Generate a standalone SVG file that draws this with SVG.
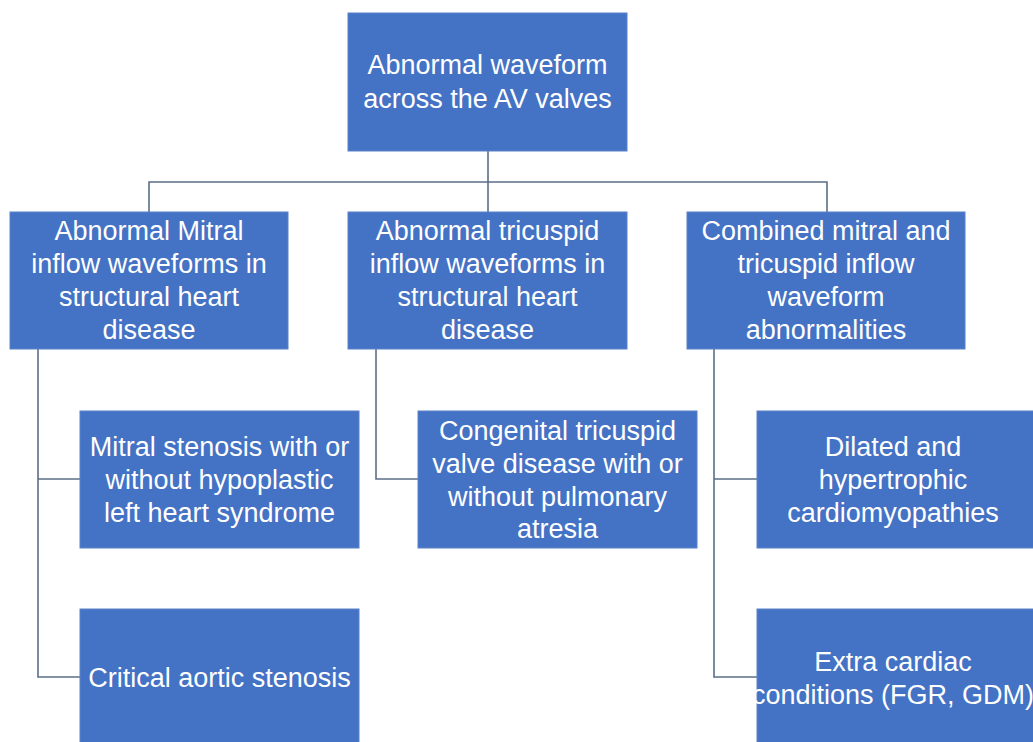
<svg xmlns="http://www.w3.org/2000/svg" width="1033" height="742" viewBox="0 0 1033 742">
<style>
.box{fill:#4472C4;stroke:#5a82c9;stroke-width:1}
.t{font-family:"Liberation Sans",Arial,sans-serif;font-size:27px;fill:#ffffff;text-anchor:middle}
.c{fill:none;stroke:#5b6f86;stroke-width:1.6}
</style>
<rect width="1033" height="742" fill="#ffffff"/>
<g id="connectors">
<path class="c" d="M488 151V182M149 212V182H827V212M488 182V212"/>
<path class="c" d="M38 349V677H80M38 479H80"/>
<path class="c" d="M376 349V479H418"/>
<path class="c" d="M714 349V677H757M714 479H757"/>
</g>
<g id="root"><rect class="box" x="348" y="13" width="279" height="138"/>
<text class="t" x="487.5" y="74">Abnormal waveform</text><text class="t" x="487.5" y="108">across the AV valves</text></g>
<g id="mitral"><rect class="box" x="10" y="212" width="278" height="137"/>
<text class="t" x="149" y="240">Abnormal Mitral</text><text class="t" x="149" y="273">inflow waveforms in</text><text class="t" x="149" y="306">structural heart</text><text class="t" x="149" y="339">disease</text></g>
<g id="tricuspid"><rect class="box" x="348" y="212" width="279" height="137"/>
<text class="t" x="487.5" y="240">Abnormal tricuspid</text><text class="t" x="487.5" y="273">inflow waveforms in</text><text class="t" x="487.5" y="306">structural heart</text><text class="t" x="487.5" y="339">disease</text></g>
<g id="combined"><rect class="box" x="687" y="212" width="278" height="137"/>
<text class="t" x="826" y="240">Combined mitral and</text><text class="t" x="826" y="273">tricuspid inflow</text><text class="t" x="826" y="306">waveform</text><text class="t" x="826" y="339">abnormalities</text></g>
<g id="mitral-stenosis"><rect class="box" x="80" y="411" width="279" height="137"/>
<text class="t" x="219.5" y="456">Mitral stenosis with or</text><text class="t" x="219.5" y="489">without hypoplastic</text><text class="t" x="219.5" y="522">left heart syndrome</text></g>
<g id="aortic"><rect class="box" x="80" y="609" width="279" height="140"/>
<text class="t" x="219.5" y="687">Critical aortic stenosis</text></g>
<g id="congenital"><rect class="box" x="418" y="411" width="279" height="137"/>
<text class="t" x="557.5" y="440">Congenital tricuspid</text><text class="t" x="557.5" y="473">valve disease with or</text><text class="t" x="557.5" y="506">without pulmonary</text><text class="t" x="557.5" y="538">atresia</text></g>
<g id="cardiomyopathies"><rect class="box" x="757" y="411" width="280" height="137"/>
<text class="t" x="893" y="456">Dilated and</text><text class="t" x="893" y="489">hypertrophic</text><text class="t" x="893" y="522">cardiomyopathies</text></g>
<g id="extracardiac"><rect class="box" x="757" y="609" width="280" height="140"/>
<text class="t" x="893" y="671">Extra cardiac</text><text class="t" x="893" y="704">conditions (FGR, GDM)</text></g>
</svg>
